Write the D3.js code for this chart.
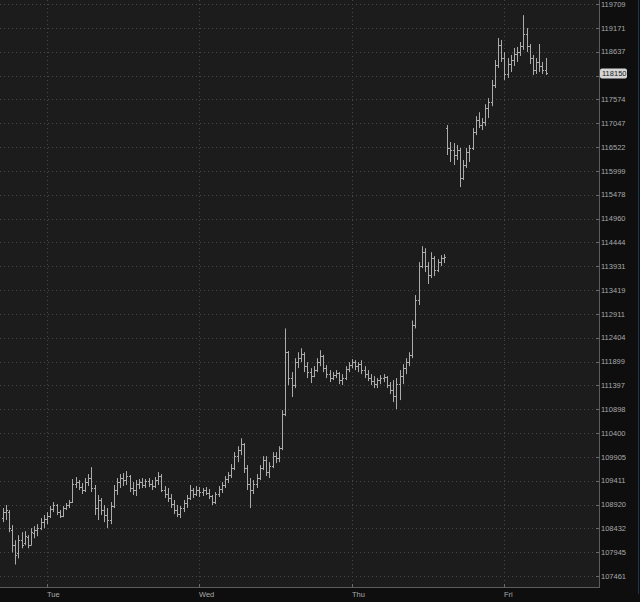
<!DOCTYPE html>
<html>
<head>
<meta charset="utf-8">
<script src="https://cdn.jsdelivr.net/npm/d3@7"></script>
<style>
html, body { margin: 0; padding: 0; background: #0e0e0e; overflow: hidden; }
svg { display: block; }
</style>
</head>
<body>
<div id="chart"></div>
<script>
// right axis labels (log spaced)
var priceTicks = [119709, 119171, 118637, 118104, 117574, 117047, 116522, 115999, 115478, 114960,
  114444, 113931, 113419, 112911, 112404, 111899, 111397, 110898, 110400, 109905,
  109411, 108920, 108432, 107945, 107461];
var dayLabels = ["Tue", "Wed", "Thu", "Fri"];
var lastPrice = 118150;

// 30 min bars, first one Mon 17:00
var tueMidnight = new Date(2025, 6, 15);
var firstBarHour = -7;
var barStepHours = 0.5;

var open = [
  108642,108765,108765,108395,108086,107921,108189,108127,108250,108086,
  108333,108395,108436,108559,108621,108683,108827,108910,108765,108683,
  108848,108910,108971,109342,109383,109280,109219,109383,109466,109260,
  108848,109013,108807,108704,108601,108889,109219,109383,109466,109425,
  109507,109260,109219,109342,109383,109322,109404,109342,109301,109425,
  109507,109219,109136,109054,108930,108807,108724,108848,108951,109054,
  109219,109136,109219,109177,109219,109157,109095,108971,109136,109239,
  109322,109445,109528,109672,109919,110043,110166,109672,109342,109219,
  109342,109466,109672,109837,109589,109713,109919,109878,110084,110794,
  112096,111550,111403,111886,111970,112054,111802,111676,111592,111718,
  111886,112012,111760,111634,111550,111613,111655,111508,111550,111739,
  111823,111886,111802,111844,111718,111634,111550,111487,111424,111508,
  111550,111571,111403,111298,111172,111424,111592,111760,111886,112033,
  112663,113205,113933,114232,113933,113740,114104,113847,114018,114104,
  116939,116500,116456,116346,116456,115842,116127,116412,116500,116851,
  117115,117005,117071,117378,117510,117893,118340,118787,118496,118139,
  118362,118452,118586,118630,118764,119033,118764,118496,118228,118407,
  118317,118228];
var high = [
  108848,108910,108807,108498,108189,108292,108353,108374,108292,108436,
  108477,108518,108642,108704,108765,108889,108971,108930,108807,108889,
  108951,109013,109445,109486,109425,109363,109466,109548,109692,109322,
  109116,109054,108910,108848,108971,109322,109466,109548,109569,109610,
  109528,109383,109425,109445,109466,109445,109466,109425,109486,109589,
  109548,109301,109260,109136,109013,108910,108889,109013,109116,109322,
  109260,109301,109280,109260,109280,109239,109116,109177,109301,109383,
  109507,109589,109754,110002,110125,110290,110190,109734,109466,109425,
  109548,109734,109919,109919,109795,110002,110002,110125,110878,112600,
  112120,111676,111970,112096,112180,112096,111886,111760,111802,111970,
  112138,112040,111823,111718,111676,111718,111676,111634,111802,111886,
  111949,111928,111886,111928,111802,111718,111634,111592,111550,111613,
  111634,111592,111466,111508,111550,111718,111844,111970,112096,112768,
  113312,114018,114361,114318,114018,114232,114147,114082,114168,114189,
  117005,116632,116610,116566,116500,116237,116500,116566,116939,117202,
  117290,117159,117466,117602,118005,118452,118943,118899,118630,118496,
  118563,118720,118742,118854,119457,119167,118809,118563,118496,118809,
  118407,118496];
var low = [
  108559,108601,108353,107941,107694,107818,108024,108086,108024,108086,
  108230,108271,108395,108436,108518,108642,108765,108704,108642,108662,
  108807,108848,108951,109260,109219,109136,109177,109301,109177,108704,
  108601,108704,108559,108436,108518,108848,109116,109260,109301,109322,
  109177,109116,109095,109239,109260,109260,109280,109219,109260,109322,
  109177,109054,108971,108848,108724,108662,108642,108765,108848,109013,
  109054,109095,109074,109095,109116,109033,108910,108930,109074,109157,
  109260,109363,109466,109631,109795,109940,109569,109219,108848,109136,
  109260,109425,109631,109507,109466,109672,109775,109795,110043,110752,
  111403,111151,111340,111760,111886,111676,111550,111445,111570,111676,
  111802,111676,111550,111466,111508,111550,111424,111403,111508,111676,
  111760,111718,111676,111634,111550,111487,111403,111340,111340,111424,
  111466,111340,111214,111046,110899,111088,111424,111634,111802,111970,
  112600,113098,113890,113804,113547,113676,113719,113804,113933,113997,
  116346,116193,116127,116237,115644,115798,116061,116193,116456,116785,
  116939,116895,116983,117159,117422,117826,118273,118407,118005,118049,
  118183,118317,118407,118541,118675,118630,118362,118116,118139,118183,
  118139,118116];
var close = [
  108765,108807,108436,108086,107880,108189,108086,108271,108086,108353,
  108395,108436,108559,108621,108683,108827,108910,108765,108683,108848,
  108910,108971,109342,109383,109280,109219,109383,109466,109260,108848,
  109013,108807,108704,108601,108889,109219,109383,109466,109425,109507,
  109260,109219,109342,109383,109322,109404,109342,109301,109425,109507,
  109219,109136,109054,108930,108807,108724,108848,108951,109054,109219,
  109136,109219,109177,109219,109157,109095,108971,109136,109239,109322,
  109445,109528,109672,109919,110043,110166,109672,109342,109219,109342,
  109466,109672,109837,109589,109713,109919,109878,110084,110794,112096,
  111550,111403,111886,111970,112054,111802,111676,111592,111718,111886,
  112012,111760,111634,111550,111613,111655,111508,111550,111739,111823,
  111886,111802,111844,111718,111634,111550,111487,111424,111508,111550,
  111571,111403,111298,111172,111424,111592,111760,111886,112033,112663,
  113205,113933,114232,113933,113740,114104,113847,114018,114104,114125,
  116500,116456,116346,116456,115842,116127,116412,116500,116851,117115,
  117005,117071,117378,117510,117893,118340,118787,118496,118139,118362,
  118452,118586,118630,118764,119033,118764,118496,118228,118407,118317,
  118228,118150];

var width = 640;
var height = 602;
var plotW = 599;  // right edge of price pane
var plotH = 587;  // bottom edge of price pane

function hourToDate(h) { return new Date(+tueMidnight + h * 3600e3); }

var bars = open.map(function(o, i) {
  return { t: hourToDate(firstBarHour + i * barStepHours), o: o, h: high[i], l: low[i], c: close[i] };
});
var days = dayLabels.map(function(d, i) { return { label: d, t: d3.timeDay.offset(tueMidnight, i) }; });

var x = d3.scaleTime()
  .domain([hourToDate(-7.4), hourToDate(86.9)])
  .range([0, plotW]);

var y = d3.scaleLog()
  .domain([107461, 119709])
  .range([576, 4]);

var svg = d3.select('#chart')
  .append('svg')
  .attr('width', width)
  .attr('height', height);

// backgrounds
svg.append('rect').attr('width', width).attr('height', height).attr('fill', '#0e0e0e');
svg.append('rect').attr('width', plotW).attr('height', plotH).attr('fill', '#1c1c1c');

svg.append('clipPath').attr('id', 'pane')
  .append('rect').attr('width', plotW).attr('height', plotH);

var grid = svg.append('g').attr('clip-path', 'url(#pane)');

// dotted grid
grid.selectAll('.hgrid')
  .data(priceTicks)
  .enter()
  .append('line')
  .attr('x1', 0).attr('x2', plotW)
  .attr('y1', function(d) { return Math.round(y(d)) + 0.5; })
  .attr('y2', function(d) { return Math.round(y(d)) + 0.5; })
  .attr('stroke', '#474747')
  .attr('stroke-dasharray', '1,3');

grid.selectAll('.vgrid')
  .data(days)
  .enter()
  .append('line')
  .attr('x1', function(d) { return Math.round(x(d.t)) + 0.5; })
  .attr('x2', function(d) { return Math.round(x(d.t)) + 0.5; })
  .attr('y1', 0).attr('y2', plotH)
  .attr('stroke', '#474747')
  .attr('stroke-dasharray', '1,3');

// ohlc bars
var barG = grid.selectAll('.bar')
  .data(bars)
  .enter()
  .append('g')
  .attr('stroke', '#ababab')
  .attr('stroke-width', 1);

barG.append('line')
  .attr('x1', function(d) { return Math.round(x(d.t)) + 0.5; })
  .attr('x2', function(d) { return Math.round(x(d.t)) + 0.5; })
  .attr('y1', function(d) { return y(d.h); })
  .attr('y2', function(d) { return y(d.l); });

barG.append('line') // open tick
  .attr('x1', function(d) { return Math.round(x(d.t)) - 1; })
  .attr('x2', function(d) { return Math.round(x(d.t)) + 0.5; })
  .attr('y1', function(d) { return Math.round(y(d.o)) + 0.5; })
  .attr('y2', function(d) { return Math.round(y(d.o)) + 0.5; });

barG.append('line') // close tick
  .attr('x1', function(d) { return Math.round(x(d.t)) + 0.5; })
  .attr('x2', function(d) { return Math.round(x(d.t)) + 2; })
  .attr('y1', function(d) { return Math.round(y(d.c)) + 0.5; })
  .attr('y2', function(d) { return Math.round(y(d.c)) + 0.5; });

// pane border
svg.append('line')
  .attr('x1', plotW + 0.5).attr('x2', plotW + 0.5)
  .attr('y1', 0).attr('y2', plotH + 1)
  .attr('stroke', '#5c5c5c');
svg.append('line')
  .attr('x1', 0).attr('x2', plotW + 1)
  .attr('y1', plotH + 0.5).attr('y2', plotH + 0.5)
  .attr('stroke', '#5c5c5c');

// right axis
var yAxis = svg.append('g');
yAxis.selectAll('.tick')
  .data(priceTicks)
  .enter()
  .append('line')
  .attr('x1', plotW - 3).attr('x2', plotW)
  .attr('y1', function(d) { return Math.round(y(d)) + 0.5; })
  .attr('y2', function(d) { return Math.round(y(d)) + 0.5; })
  .attr('stroke', '#6a6a6a');

yAxis.selectAll('text')
  .data(priceTicks)
  .enter()
  .append('text')
  .attr('x', plotW + 2)
  .attr('y', function(d) { return y(d); })
  .attr('dy', '0.36em')
  .attr('fill', '#a9a9a9')
  .style('font-family', '"Liberation Sans", Arial, sans-serif')
  .style('font-size', '7.5px')
  .text(function(d) { return d; });

// bottom axis
var xAxis = svg.append('g');
xAxis.selectAll('line')
  .data(days)
  .enter()
  .append('line')
  .attr('x1', function(d) { return Math.round(x(d.t)) + 0.5; })
  .attr('x2', function(d) { return Math.round(x(d.t)) + 0.5; })
  .attr('y1', plotH - 3).attr('y2', plotH)
  .attr('stroke', '#6a6a6a');

xAxis.selectAll('text')
  .data(days)
  .enter()
  .append('text')
  .attr('x', function(d) { return Math.round(x(d.t)); })
  .attr('y', 597)
  .attr('fill', '#a9a9a9')
  .style('font-family', '"Liberation Sans", Arial, sans-serif')
  .style('font-size', '7.5px')
  .text(function(d) { return d.label; });

// last price tag (sits over the 118104 label, as in the platform)
var tag = svg.append('g').attr('transform', 'translate(' + (plotW + 1) + ',' + y(lastPrice) + ')');
tag.append('rect')
  .attr('x', 0).attr('y', -5)
  .attr('width', 27).attr('height', 10)
  .attr('rx', 2)
  .attr('fill', '#d6d6d6');
tag.append('text')
  .attr('x', 2).attr('dy', '0.36em')
  .attr('fill', '#1a1a1a')
  .style('font-family', '"Liberation Sans", Arial, sans-serif')
  .style('font-size', '7.5px')
  .text(lastPrice);

// thin edge line on the far right
svg.append('line')
  .attr('x1', 638.5).attr('x2', 638.5)
  .attr('y1', 0).attr('y2', 594)
  .attr('stroke', '#1c3550');
</script>
</body>
</html>
